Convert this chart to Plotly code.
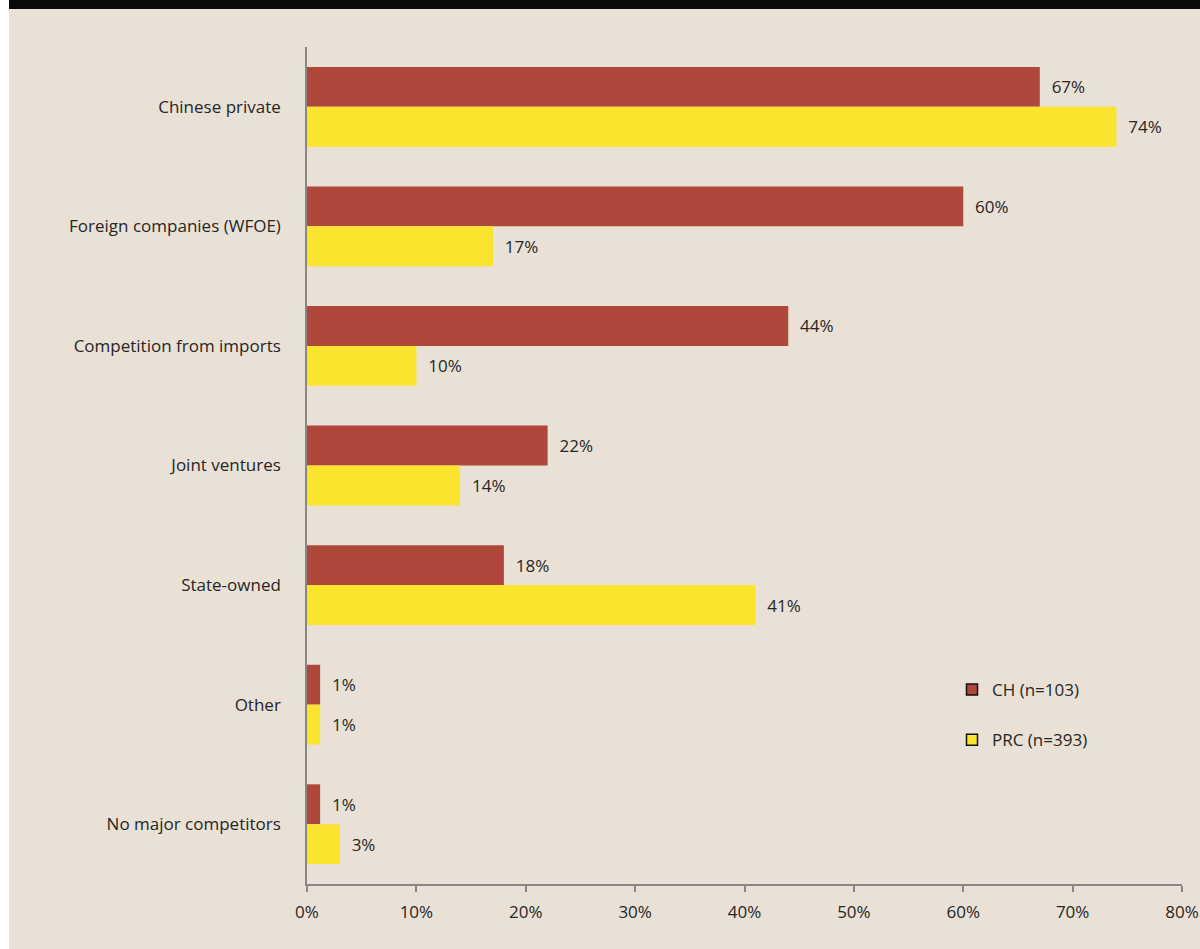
import plotly.graph_objects as go

categories = ["Chinese private", "Foreign companies (WFOE)", "Competition from imports",
              "Joint ventures", "State-owned", "Other", "No major competitors"]
ch_values = [67, 60, 44, 22, 18, 1.2, 1.2]
prc_values = [74, 17, 10, 14, 41, 1.2, 3]
series_names = ["CH (n=103)", "PRC (n=393)"]
x_ticks = [0, 10, 20, 30, 40, 50, 60, 70, 80]
x_tick_labels = [f"{v}%" for v in x_ticks]

RED = "#B0473B"
YELLOW = "#FAE42D"
BG = "#E9E1D5"
TEXT = "#262626"
FONT = "Open Sans"
FS = 17

W, H = 1200, 949
ML, MR, MT, MB = 307, 18, 47, 65

fig = go.Figure()
for name, vals, col in [(series_names[0], ch_values, RED), (series_names[1], prc_values, YELLOW)]:
    fig.add_trace(go.Bar(
        y=categories, x=vals, orientation="h", name=name,
        marker=dict(color=col, line=dict(width=0)),
        text=["\u00a0\u00a0" + f"{v:.0f}%" for v in vals], textposition="outside",
        textfont=dict(family=FONT, size=FS, color=TEXT),
        cliponaxis=False, showlegend=False,
    ))

# legend entries
for i, (name, col) in enumerate([(series_names[0], RED), (series_names[1], YELLOW)]):
    fig.add_trace(go.Scatter(
        x=[None], y=[None], mode="markers", name=name,
        marker=dict(symbol="square", size=11, color=col, line=dict(color="#111111", width=1.5)),
        legendgroup=f"g{i}", showlegend=True,
    ))

pw = W - ML - MR
ph = H - MT - MB
def px_to_paper_x(px):
    return (px - ML) / pw
def py_to_paper_y(py):
    return (H - MB - py) / ph

fig.update_layout(
    width=W, height=H, autosize=False,
    margin=dict(l=ML, r=MR, t=MT, b=MB, pad=0, autoexpand=False),
    paper_bgcolor=BG, plot_bgcolor=BG,
    barmode="group", bargap=0.333, bargroupgap=0,
    font=dict(family=FONT, size=FS, color=TEXT),
    legend=dict(
        x=px_to_paper_x(952), y=py_to_paper_y(672), xanchor="left", yanchor="top",
        bgcolor="rgba(0,0,0,0)", font=dict(family=FONT, size=FS, color=TEXT),
        tracegroupgap=25, itemclick=False,
    ),
    xaxis=dict(
        range=[0, 80], tickvals=x_ticks, ticktext=x_tick_labels,
        showgrid=False, zeroline=False, showline=True, linecolor="#878787", linewidth=1.5,
        ticks="outside", ticklen=6, tickcolor="#878787", tickwidth=1.5,
        ticklabelstandoff=6,
        tickfont=dict(family=FONT, size=FS, color=TEXT), fixedrange=True, automargin=False,
    ),
    yaxis=dict(
        autorange="reversed", showgrid=False, zeroline=False,
        showline=True, linecolor="#878787", linewidth=1.5, ticks="",
        ticklabelstandoff=21, automargin=False,
        tickfont=dict(family=FONT, size=FS, color=TEXT), fixedrange=True,
    ),
    shapes=[
        dict(type="rect", xref="paper", yref="paper",
             x0=px_to_paper_x(-2), x1=px_to_paper_x(9), y0=py_to_paper_y(H + 2), y1=py_to_paper_y(-2),
             fillcolor="#FFFFFF", line=dict(width=0), layer="above"),
        dict(type="rect", xref="paper", yref="paper",
             x0=px_to_paper_x(9), x1=px_to_paper_x(W + 2), y0=py_to_paper_y(9), y1=py_to_paper_y(-2),
             fillcolor="#0A0A0A", line=dict(width=0), layer="above"),
    ],
)

fig.write_html("out.html", config={"displayModeBar": False},
               post_script="document.body.style.margin='0';document.body.style.overflow='hidden';")
